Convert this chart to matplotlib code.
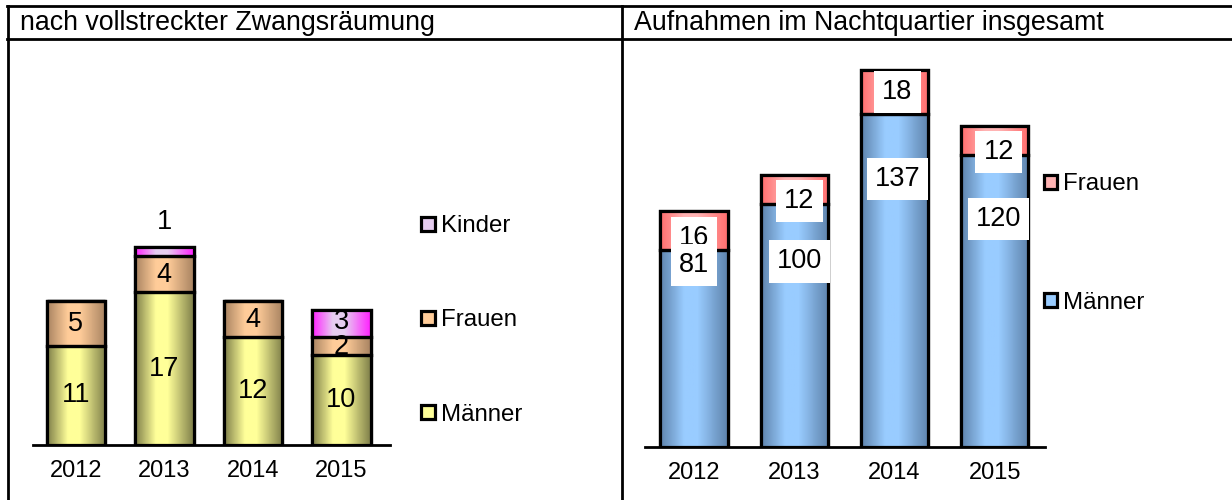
import matplotlib.pyplot as plt
import numpy as np
from matplotlib.colors import LinearSegmentedColormap
from matplotlib.lines import Line2D

plt.rcParams['font.family'] = ['Liberation Sans', 'DejaVu Sans']

years = ['2012', '2013', '2014', '2015']

# left: nach vollstreckter Zwangsraeumung
l_maenner = [11, 17, 12, 10]
l_frauen = [5, 4, 4, 2]
l_kinder = [0, 1, 0, 3]

# right: Aufnahmen im Nachtquartier insgesamt
r_maenner = [81, 100, 137, 120]
r_frauen = [16, 12, 18, 12]
# label anchors (data units) as placed in the original
r_maenner_lab_y = [75, 76.3, 110.3, 93.8]
r_frauen_lab_y = [86, 101.2, 146, 121.4]
r_lab_dx = [0, 0.05, 0.03, 0.04]

# (edge colour, centre colour)
col_maenner_l = ('#80804a', '#ffff99')
col_frauen_l = ('#a98462', '#ffcc99')
col_kinder_l = ('#ff22ff', '#e6cdf0')
col_maenner_r = ('#5f84ad', '#99ccff')
col_frauen_r = ('#ff6e6e', '#ffb3b3')


def gradient_bars(ax, x, h, bottom, cols, width, label):
    cmap = LinearSegmentedColormap.from_list('g', [cols[0], cols[1], cols[1], cols[0]])
    bars = ax.bar(x, h, width, bottom=bottom, color=cols[1], edgecolor='black',
                  linewidth=2.3, zorder=2, label=label)
    grad = np.interp(np.linspace(0, 1, 64), [0, 0.36, 0.55, 1], [0, 0.34, 0.66, 1])[None, :]
    for p in bars:
        if p.get_height() == 0:
            continue
        x0, y0 = p.get_x(), p.get_y()
        im = ax.imshow(grad, cmap=cmap, aspect='auto', zorder=2.5,
                       extent=(x0, x0 + p.get_width(), y0, y0 + p.get_height()))
        im.set_clip_path(p)
    ax.bar(x, h, width, bottom=bottom, fill=False, edgecolor='black',
           linewidth=2.3, zorder=3)
    return bars


fig = plt.figure(figsize=(12.32, 5.0), dpi=100)

# table frame
for (x0, x1, y0, y1) in [(0.0057, 1.0, 0.989, 0.989), (0.0057, 1.0, 0.922, 0.922),
                         (0.0065, 0.0065, 0.0, 0.989), (0.505, 0.505, 0.0, 0.989)]:
    fig.add_artist(Line2D([x0, x1], [y0, y1], color='black', lw=2.0, transform=fig.transFigure))

fig.text(0.0165, 0.953, 'nach vollstreckter Zwangsräumung', fontsize=19.3, va='center', ha='left')
fig.text(0.5145, 0.953, 'Aufnahmen im Nachtquartier insgesamt', fontsize=19.3, va='center', ha='left')

x = np.arange(len(years))

# ---- left chart
ax1 = fig.add_axes([0.0268, 0.11, 0.2898, 0.54])
b_m = gradient_bars(ax1, x, l_maenner, 0, col_maenner_l, 0.66, 'Männer')
b_f = gradient_bars(ax1, x, l_frauen, l_maenner, col_frauen_l, 0.66, 'Frauen')
bot_k = np.array(l_maenner) + np.array(l_frauen)
b_k = gradient_bars(ax1, x, l_kinder, bot_k, col_kinder_l, 0.66, 'Kinder')
ax1.set_xlim(-0.483, 3.55)
ax1.set_ylim(0, 30)

fs = 19.5
for i in range(len(years)):
    ax1.text(x[i], l_maenner[i] / 2, str(l_maenner[i]), ha='center', va='center', fontsize=fs, zorder=4)
    ax1.text(x[i], l_maenner[i] + l_frauen[i] / 2 - 0.1, str(l_frauen[i]), ha='center', va='center',
             fontsize=fs, zorder=4)
    if l_kinder[i] >= 2:
        ax1.text(x[i], bot_k[i] + l_kinder[i] / 2 + 0.15, str(l_kinder[i]), ha='center', va='center',
                 fontsize=fs, zorder=4)
    elif l_kinder[i] == 1:
        ax1.text(x[i], bot_k[i] + l_kinder[i] + 2.8, str(l_kinder[i]), ha='center', va='center',
                 fontsize=fs, zorder=4)

ax1.legend(handles=[b_k, b_f, b_m], loc='center left', bbox_to_anchor=(0.342, 0.359),
           bbox_transform=fig.transFigure, frameon=False, fontsize=17.3, labelspacing=3.0,
           handlelength=0.55, handleheight=0.55, handletextpad=0.25, borderpad=0, borderaxespad=0)

# ---- right chart
ax2 = fig.add_axes([0.5235, 0.106, 0.3245, 0.778])
r_m = gradient_bars(ax2, x, r_maenner, 0, col_maenner_r, 0.67, 'Männer')
r_f = gradient_bars(ax2, x, r_frauen, r_maenner, col_frauen_r, 0.67, 'Frauen')
ax2.set_xlim(-0.49, 3.5)
ax2.set_ylim(0, 160)

box = dict(boxstyle='square,pad=0.3', facecolor='white', edgecolor='none')
for i in range(len(years)):
    ax2.text(x[i] + r_lab_dx[i], r_frauen_lab_y[i], str(r_frauen[i]), ha='center', va='center',
             fontsize=fs, bbox=box, zorder=4)
    ax2.text(x[i] + r_lab_dx[i], r_maenner_lab_y[i], str(r_maenner[i]), ha='center', va='center',
             fontsize=fs, bbox=box, zorder=5)

ax2.legend(handles=[r_f, r_m], loc='center left', bbox_to_anchor=(0.8475, 0.513),
           bbox_transform=fig.transFigure, frameon=False, fontsize=17.3, labelspacing=4.0,
           handlelength=0.55, handleheight=0.55, handletextpad=0.25, borderpad=0, borderaxespad=0)

for ax in (ax1, ax2):
    for s in ('top', 'right', 'left'):
        ax.spines[s].set_visible(False)
    ax.spines['bottom'].set_linewidth(2.0)
    ax.set_yticks([])
    ax.set_xticks(x)
    ax.set_xticklabels(years, fontsize=17)
    ax.tick_params(axis='x', length=0, pad=11)
    ax.patch.set_alpha(0)

fig.savefig('out.png', dpi=100)
